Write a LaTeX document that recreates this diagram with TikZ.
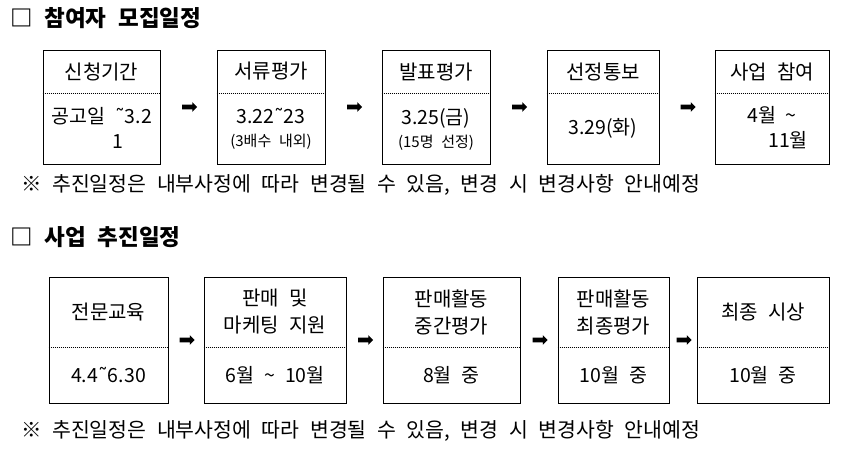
\documentclass[tikz,border=0pt]{standalone}
\usepackage{fontspec}
\setmainfont{Noto Sans CJK KR}[WordSpace=2.3]
\newfontfamily\symfont{DejaVu Sans}
\newcommand{\hitilde}{{\symfont ˜}}
\usetikzlibrary{shapes.arrows}

\begin{document}
\begin{tikzpicture}[x=1pt, y=-1pt,
        box/.style={draw=black, line width=0.8pt, inner sep=0pt},
        heading/.style={anchor=west, inner sep=0pt, font=\fontsize{22.5}{26}\selectfont\bfseries},
        note/.style={anchor=west, inner sep=0pt, font=\fontsize{20.5}{24}\selectfont},
        title/.style={align=center, inner sep=0pt, font=\fontsize{20}{27}\selectfont},
        date/.style={align=center, inner sep=0pt, font=\fontsize{19.5}{25}\selectfont},
        divider/.style={line width=0.8pt, dash pattern=on 1pt off 1pt},
        pointer/.style={single arrow, fill=black, inner xsep=0pt, inner ysep=2.2pt, minimum height=15pt, single arrow head extend=2.5pt}
    ]
    \useasboundingbox (0,0) rectangle (846,450);

    % Recruitment schedule
    \node[heading] (head1) at (10,18) {□ 참여자 모집일정};
    \coordinate (cut1) at (0,93);

    \node[box, minimum width=117pt, minimum height=114pt] (apply) at (101.5,107) {};
    \node[title] (applyt) at (101.5,71.5) {신청기간};
    \node[date] (applyd) at (101.5,128) {공고일 \hitilde3.2\\\hspace*{33pt}1};
    \draw[divider] (apply.west |- cut1) -- (apply.east |- cut1);

    \node[box, minimum width=108pt, minimum height=114pt] (paper) at (271,107) {};
    \node[title] (papert) at (271,71.5) {서류평가};
    \node[date] (paperd) at (271,129) {3.22\hitilde23\\[-2pt]{\fontsize{15}{17}\selectfont (3배수 내외)}};
    \draw[divider] (paper.west |- cut1) -- (paper.east |- cut1);

    \node[box, minimum width=108pt, minimum height=114pt] (present) at (436,107) {};
    \node[title] (presentt) at (436,71.5) {발표평가};
    \node[date] (presentd) at (436,129) {3.25(금)\\[-2pt]{\fontsize{15}{17}\selectfont (15명 선정)}};
    \draw[divider] (present.west |- cut1) -- (present.east |- cut1);

    \node[box, minimum width=112pt, minimum height=114pt] (notice) at (603,107) {};
    \node[title] (noticet) at (603,71.5) {선정통보};
    \node[date] (noticed) at (603,128) {3.29(화)};
    \draw[divider] (notice.west |- cut1) -- (notice.east |- cut1);

    \node[box, minimum width=114pt, minimum height=114pt] (join) at (772,107) {};
    \node[title] (joint) at (772,71.5) {사업 참여};
    \node[date] (joind) at (772,128) {4월 \textasciitilde\\\hspace*{32pt}11월};
    \draw[divider] (join.west |- cut1) -- (join.east |- cut1);

    \path (apply) -- node[pointer] {} (paper);
    \path (paper) -- node[pointer] {} (present);
    \path (present) -- node[pointer] {} (notice);
    \path (notice) -- node[pointer] {} (join);

    \node[note] (note1) at (21,185) {※ 추진일정은 내부사정에 따라 변경될 수 있음, 변경 시 변경사항 안내예정};

    % Business schedule
    \node[heading] (head2) at (10,237) {□ 사업 추진일정};
    \coordinate (cut2) at (0,347);

    \node[box, minimum width=119pt, minimum height=126pt] (edu) at (108.5,340) {};
    \node[title] (edut) at (108.5,312) {전문교육};
    \node[date] (edud) at (108.5,375) {4.4\hitilde6.30};
    \draw[divider] (edu.west |- cut2) -- (edu.east |- cut2);

    \node[box, minimum width=142pt, minimum height=126pt] (support) at (275,340) {};
    \node[title] (supportt) at (275,312) {판매 및\\마케팅 지원};
    \node[date] (supportd) at (275,375) {6월 \textasciitilde\ 10월};
    \draw[divider] (support.west |- cut2) -- (support.east |- cut2);

    \node[box, minimum width=137pt, minimum height=126pt] (midterm) at (451.5,340) {};
    \node[title] (midtermt) at (451.5,312) {판매활동\\중간평가};
    \node[date] (midtermd) at (451.5,375) {8월 중};
    \draw[divider] (midterm.west |- cut2) -- (midterm.east |- cut2);

    \node[box, minimum width=111pt, minimum height=126pt] (final) at (613.5,340) {};
    \node[title] (finalt) at (613.5,312) {판매활동\\최종평가};
    \node[date] (finald) at (613.5,375) {10월 중};
    \draw[divider] (final.west |- cut2) -- (final.east |- cut2);

    \node[box, minimum width=132pt, minimum height=126pt] (award) at (763,340) {};
    \node[title] (awardt) at (763,312) {최종 시상};
    \node[date] (awardd) at (763,375) {10월 중};
    \draw[divider] (award.west |- cut2) -- (award.east |- cut2);

    \path (edu) -- node[pointer] {} (support);
    \path (support) -- node[pointer] {} (midterm);
    \path (midterm) -- node[pointer] {} (final);
    \path (final) -- node[pointer] {} (award);

    \node[note] (note2) at (21,431) {※ 추진일정은 내부사정에 따라 변경될 수 있음, 변경 시 변경사항 안내예정};
\end{tikzpicture}
\end{document}
